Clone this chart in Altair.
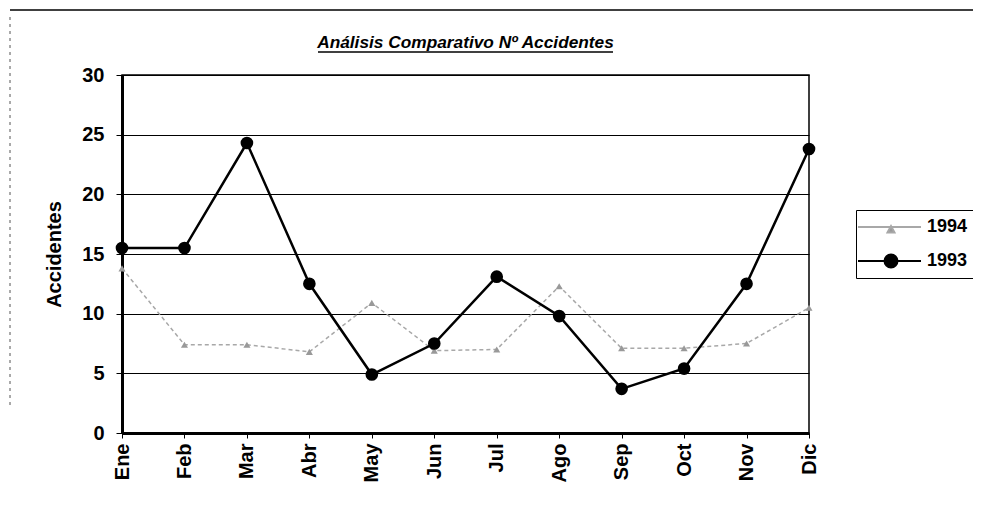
import altair as alt
import pandas as pd

meses = ["Ene", "Feb", "Mar", "Abr", "May", "Jun", "Jul", "Ago", "Sep", "Oct", "Nov", "Dic"]
acc_1993 = [15.5, 15.5, 24.3, 12.5, 4.9, 7.5, 13.1, 9.8, 3.7, 5.4, 12.5, 23.8]
acc_1994 = [13.8, 7.4, 7.4, 6.8, 10.9, 6.9, 7.0, 12.3, 7.1, 7.1, 7.5, 10.5]
series = ["1994", "1993"]
titulo = "Análisis Comparativo Nº Accidentes"

df = pd.DataFrame(
    {"mes": meses * 2,
     "valor": acc_1994 + acc_1993,
     "serie": ["1994"] * 12 + ["1993"] * 12}
)

FONT = "Liberation Sans"

x_enc = alt.X(
    "mes:N", sort=meses, title=None,
    scale=alt.Scale(type="point", padding=0),
    axis=alt.Axis(labelAngle=270, labelFontSize=20, labelFontWeight="bold",
                  labelColor="black", domainColor="black", domainWidth=3,
                  tickColor="black", tickSize=5, labelPadding=5, grid=False),
)
y_enc = alt.Y(
    "valor:Q", title="Accidentes",
    scale=alt.Scale(domain=[0, 30]),
    axis=alt.Axis(values=[0, 5, 10, 15, 20, 25, 30], labelFontSize=20,
                  labelFontWeight="bold", labelColor="black", domainColor="black",
                  domainWidth=3, tickColor="black", tickSize=6, labelPadding=12,
                  grid=True, gridColor="black", gridWidth=1,
                  titleFontSize=20, titleFontWeight="bold", titleColor="black",
                  titlePadding=17),
)

base = alt.Chart(df)

line94 = base.transform_filter(alt.datum.serie == "1994").mark_line(
    color="#a8a8a8", strokeWidth=1.5, strokeDash=[4, 3]
).encode(x=x_enc, y=y_enc)
pts94 = base.transform_filter(alt.datum.serie == "1994").mark_point(
    shape="triangle-up", filled=True, color="#999999", size=50, opacity=1
).encode(x=x_enc, y=y_enc)
line93 = base.transform_filter(alt.datum.serie == "1993").mark_line(
    color="black", strokeWidth=2.5
).encode(x=x_enc, y=y_enc)
pts93 = base.transform_filter(alt.datum.serie == "1993").mark_point(
    shape="circle", filled=True, color="black", size=160, opacity=1
).encode(x=x_enc, y=y_enc)

path94 = "M-1.5,0L4.8,0M1.45,0.55L1.8,-0.1L2.15,0.55Z"
path93 = "M-1.5,0L4.8,0M1.15,0A0.65,0.65,0,1,1,2.45,0A0.65,0.65,0,1,1,1.15,0Z"

leg = alt.Legend(title=None, orient="none", legendX=734, legendY=135,
                 symbolSize=400, symbolStrokeWidth=2, symbolOpacity=1,
                 labelFontSize=18, labelFontWeight="bold", labelColor="black",
                 labelOffset=43, rowPadding=13, padding=6,
                 strokeColor="black")

legend_layer = base.mark_point(opacity=0, filled=True).encode(
    x=x_enc, y=y_enc,
    shape=alt.Shape("serie:N", scale=alt.Scale(domain=series, range=[path94, path93]), legend=leg),
    fill=alt.Fill("serie:N", scale=alt.Scale(domain=series, range=["#999999", "black"]), legend=leg),
    stroke=alt.Stroke("serie:N", scale=alt.Scale(domain=series, range=["#a8a8a8", "black"]), legend=leg),
)

deco = pd.DataFrame({"t": [titulo]})
top_rule = alt.Chart(deco).mark_rule(color="black", strokeWidth=1.5).encode(
    x=alt.value(-112), x2=alt.value(855), y=alt.value(-65))
left_rule = alt.Chart(deco).mark_rule(color="#555", strokeWidth=1, strokeDash=[3, 4]).encode(
    x=alt.value(-112), y=alt.value(-58), y2=alt.value(330))
title_text = alt.Chart(deco).mark_text(
    font=FONT, fontSize=17.3, fontWeight="bold", fontStyle="italic", color="black",
    align="center", baseline="alphabetic"
).encode(text="t:N", x=alt.value(343.5), y=alt.value(-27))
underline = alt.Chart(deco).mark_rule(color="black", strokeWidth=1.5).encode(
    x=alt.value(196), x2=alt.value(491), y=alt.value(-23))

chart = alt.layer(
    top_rule, left_rule, title_text, underline, line94, pts94, line93, pts93, legend_layer
).properties(
    width=687, height=358,
    autosize=alt.AutoSizeParams(type="none"),
    padding={"left": 114, "top": 67, "right": 164, "bottom": 60},
).configure(
    font=FONT,
).configure_view(
    stroke="black", strokeWidth=1.5,
).configure_axis(
    labelFont=FONT, titleFont=FONT,
)

chart.save("out.html", embed_options={"renderer": "svg", "actions": False})
